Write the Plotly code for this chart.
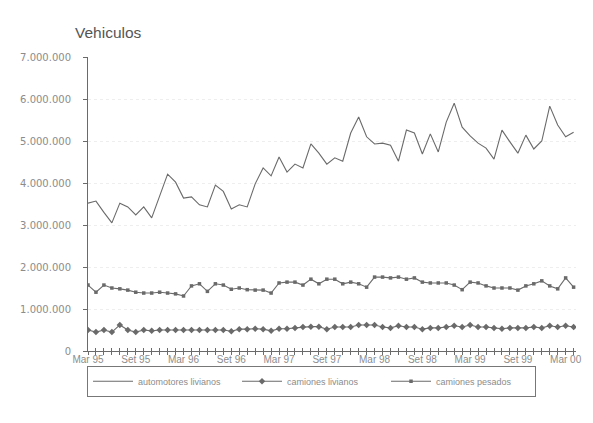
import plotly.graph_objects as go

# monthly series, Mar 95 .. Apr 00 (values in millions of vehicles)
months = list(range(62))
tick_pos = [0, 6, 12, 18, 24, 30, 36, 42, 48, 54, 60]
tick_labels = ['Mar 95', 'Set 95', 'Mar 96', 'Set 96', 'Mar 97', 'Set 97',
               'Mar 98', 'Set 98', 'Mar 99', 'Set 99', 'Mar 00']

automotores_livianos = [3.52, 3.57, 3.30, 3.05, 3.52, 3.43, 3.24, 3.43, 3.17, 3.67,
                        4.21, 4.02, 3.64, 3.67, 3.48, 3.43, 3.95, 3.80, 3.38, 3.48,
                        3.43, 3.98, 4.36, 4.17, 4.62, 4.26, 4.45, 4.36, 4.93, 4.71,
                        4.45, 4.60, 4.52, 5.19, 5.57, 5.10, 4.93, 4.95, 4.90, 4.52,
                        5.26, 5.19, 4.69, 5.17, 4.74, 5.45, 5.90, 5.33, 5.12, 4.95,
                        4.83, 4.57, 5.26, 4.98, 4.71, 5.14, 4.81, 5.00, 5.83, 5.38,
                        5.10, 5.21]
camiones_livianos = [0.50, 0.45, 0.50, 0.45, 0.62, 0.50, 0.45, 0.50, 0.48, 0.50,
                     0.50, 0.50, 0.50, 0.50, 0.50, 0.50, 0.50, 0.50, 0.47, 0.52,
                     0.52, 0.53, 0.52, 0.48, 0.53, 0.53, 0.55, 0.57, 0.58, 0.58,
                     0.52, 0.57, 0.57, 0.57, 0.62, 0.62, 0.62, 0.57, 0.55, 0.60,
                     0.57, 0.57, 0.52, 0.55, 0.55, 0.57, 0.60, 0.57, 0.62, 0.57,
                     0.57, 0.55, 0.53, 0.55, 0.55, 0.55, 0.57, 0.55, 0.60, 0.57,
                     0.60, 0.57]
camiones_pesados = [1.57, 1.40, 1.57, 1.50, 1.48, 1.45, 1.40, 1.38, 1.38, 1.40,
                    1.38, 1.36, 1.31, 1.55, 1.60, 1.42, 1.60, 1.57, 1.47, 1.50,
                    1.46, 1.45, 1.45, 1.38, 1.62, 1.64, 1.64, 1.57, 1.71, 1.60,
                    1.71, 1.71, 1.60, 1.64, 1.60, 1.52, 1.76, 1.76, 1.74, 1.76,
                    1.71, 1.74, 1.64, 1.62, 1.62, 1.62, 1.57, 1.46, 1.64, 1.62,
                    1.55, 1.50, 1.50, 1.50, 1.45, 1.55, 1.60, 1.67, 1.55, 1.48,
                    1.74, 1.52]

y_ticks = [0, 1e6, 2e6, 3e6, 4e6, 5e6, 6e6, 7e6]
y_labels = ['0', '1.000.000', '2.000.000', '3.000.000', '4.000.000',
            '5.000.000', '6.000.000', '7.000.000']

line_col = '#6a6a6a'
txt_col = '#8c8c8c'
font = 'Liberation Sans'

fig = go.Figure()
fig.add_trace(go.Scatter(x=months, y=[v * 1e6 for v in automotores_livianos],
                         mode='lines', name='automotores livianos',
                         line=dict(color=line_col, width=1.1)))
fig.add_trace(go.Scatter(x=months, y=[v * 1e6 for v in camiones_livianos],
                         mode='lines+markers', name='camiones livianos',
                         line=dict(color=line_col, width=1.1),
                         marker=dict(symbol='diamond', size=5, color=line_col)))
fig.add_trace(go.Scatter(x=months, y=[v * 1e6 for v in camiones_pesados],
                         mode='lines+markers', name='camiones pesados',
                         line=dict(color=line_col, width=1.1),
                         marker=dict(symbol='square', size=3.5, color=line_col)))
# inner half of the month ticks
fig.add_trace(go.Scatter(x=months, y=[None] * len(months), xaxis='x2',
                         showlegend=False, hoverinfo='skip'))

# page body has an 8px margin, so the figure is drawn 8px smaller
fig.update_layout(
    width=585, height=415,
    margin=dict(l=74, r=13, t=49, b=72),
    paper_bgcolor='white', plot_bgcolor='white',
    font=dict(family=font, size=10, color=txt_col),
    showlegend=True,
    legend=dict(orientation='h', x=-0.002, xanchor='left', y=-0.05, yanchor='top',
                bordercolor='#777777', borderwidth=1,
                font=dict(size=9, color=txt_col),
                entrywidth=94, itemwidth=40,
                tracegroupgap=0),
    xaxis=dict(range=[0, 61.3], tickmode='array', tickvals=months,
               ticktext=[tick_labels[tick_pos.index(m)] if m in tick_pos else ''
                         for m in months],
               ticks='outside', ticklen=3, tickcolor=line_col,
               ticklabelstandoff=-4,
               showline=True, linecolor=line_col, linewidth=1,
               showgrid=False, zeroline=False,
               tickfont=dict(size=10, color=txt_col)),
    xaxis2=dict(range=[0, 61.3], overlaying='x', anchor='y', side='bottom',
                tickmode='array', tickvals=months, ticks='inside', ticklen=3,
                tickcolor=line_col, showticklabels=False, showline=False,
                showgrid=False, zeroline=False),
    yaxis=dict(range=[0, 7e6], tickmode='array', tickvals=y_ticks, ticktext=y_labels,
               ticks='outside', ticklen=4, tickcolor=line_col,
               ticklabelstandoff=10,
               showline=True, linecolor=line_col, linewidth=1,
               showgrid=True, gridcolor='#eeeeee', griddash='dot',
               zeroline=False, tickfont=dict(size=10, color=txt_col, family='DejaVu Sans')),
    annotations=[dict(text='Vehiculos', xref='paper', yref='paper',
                      x=-0.03, y=1.085, xanchor='left', yanchor='middle',
                      showarrow=False, font=dict(size=15.5, color='#555555', family=font))],
)

fig.write_html('out.html')
